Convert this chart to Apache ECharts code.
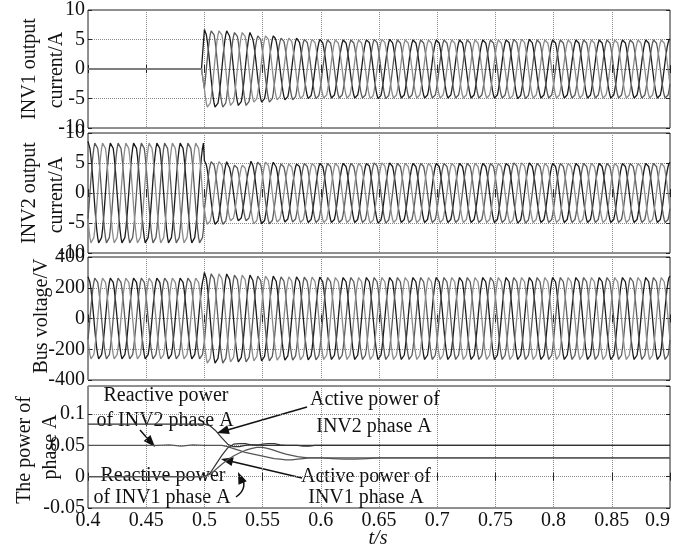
<!DOCTYPE html>
<html>
<head>
<meta charset="utf-8">
<script src="https://cdn.jsdelivr.net/npm/echarts/dist/echarts.min.js"></script>
<style>
  html, body { margin: 0; padding: 0; background: #fff; }
  #chart { width: 684px; height: 548px; }
</style>
</head>
<body>
<div id="chart"></div>
<script>
// time axis
const tStart = 0.4;
const samplesPerCycle = 24;
const cycleTime = 0.02; // 50 Hz
const totalSamples = 600;
const xTicks = [0.4, 0.45, 0.5, 0.55, 0.6, 0.65, 0.7, 0.75, 0.8, 0.85, 0.9];

// one normalised cycle (24 samples)
const cycleShape = [0, 0.259, 0.5, 0.707, 0.866, 0.966, 1, 0.966, 0.866, 0.707, 0.5, 0.259,
  0, -0.259, -0.5, -0.707, -0.866, -0.966, -1, -0.966, -0.866, -0.707, -0.5, -0.259];
// sample offset of phase A, B, C at t = 0.4
const phaseShift = [6, 22, 14];

// peak value of each 20 ms cycle
const inv1Amp = [0, 0, 0, 0, 0, 6.7, 6.4, 5.8, 5.4, 5.2, 5.1, 5.1, 5.2, 5.1, 5.1, 5.1, 5.1, 5.1, 5.2, 5.1, 5.1, 5.1, 5.1, 5.1, 5.1, 5.1];
const inv2Amp = [8.6, 8.6, 8.6, 8.6, 8.6, 5.4, 4.8, 5.3, 5.0, 5.1, 5.1, 5.1, 5.2, 5.1, 5.1, 5.1, 5.1, 5.1, 5.2, 5.1, 5.1, 5.1, 5.1, 5.1, 5.1, 5.1];
const busAmp = [272, 272, 272, 272, 272, 300, 292, 285, 280, 278, 276, 276, 276, 276, 276, 276, 276, 276, 276, 276, 276, 276, 276, 276, 276, 276];

// phase A power
const powerTime = [0.4, 0.45, 0.46, 0.47, 0.48, 0.49, 0.5, 0.505, 0.51, 0.515, 0.52, 0.525, 0.53, 0.535, 0.54, 0.545, 0.55, 0.555, 0.56, 0.565, 0.57, 0.575, 0.58, 0.585, 0.59, 0.595, 0.6, 0.61, 0.62, 0.63, 0.64, 0.65, 0.7, 0.9];
const inv2Active = [0.084, 0.084, 0.084, 0.084, 0.084, 0.084, 0.084, 0.081, 0.073, 0.062, 0.052, 0.048, 0.048, 0.05, 0.051, 0.051, 0.05, 0.05, 0.05, 0.05, 0.05, 0.05, 0.05, 0.05, 0.05, 0.05, 0.05, 0.05, 0.05, 0.05, 0.05, 0.05, 0.05, 0.05];
const inv1Active = [0, 0, 0, 0, 0, 0, 0, 0.006, 0.02, 0.034, 0.046, 0.052, 0.053, 0.053, 0.051, 0.05, 0.052, 0.053, 0.053, 0.051, 0.05, 0.05, 0.05, 0.049, 0.049, 0.05, 0.05, 0.05, 0.05, 0.05, 0.05, 0.05, 0.05, 0.05];
const inv2Reactive = [0.05, 0.05, 0.05, 0.051, 0.049, 0.051, 0.05, 0.05, 0.05, 0.05, 0.048, 0.045, 0.042, 0.039, 0.037, 0.035, 0.033, 0.031, 0.029, 0.028, 0.027, 0.027, 0.028, 0.029, 0.03, 0.03, 0.03, 0.03, 0.03, 0.03, 0.03, 0.03, 0.03, 0.03];
const inv1Reactive = [0, 0, 0, 0, 0, 0, 0, 0.004, 0.012, 0.02, 0.027, 0.033, 0.038, 0.042, 0.045, 0.047, 0.047, 0.045, 0.042, 0.039, 0.036, 0.034, 0.032, 0.031, 0.03, 0.03, 0.03, 0.029, 0.028, 0.028, 0.029, 0.03, 0.03, 0.03];

const phaseColors = ["#1a1a1a", "#5a5a5a", "#8c8c8c"];
const font = "'Liberation Serif', 'Times New Roman', serif";

function phaseData(amp, shift) {
  const out = [];
  for (let k = 0; k <= totalSamples; k++) {
    const c = Math.min(Math.floor(k / samplesPerCycle), amp.length - 1);
    out.push([tStart + (k * cycleTime) / samplesPerCycle, amp[c] * cycleShape[(k + shift) % samplesPerCycle]]);
  }
  return out;
}

function pairs(ts, vs) {
  return ts.map((t, i) => [t, vs[i]]);
}

const grids = [
  { left: 88, right: 14, top: 6, height: 122 },
  { left: 88, right: 14, top: 133, height: 120 },
  { left: 88, right: 14, top: 257, height: 123 },
  { left: 88, right: 14, top: 386, height: 122 },
].map((g) => ({ ...g, show: true, borderColor: "#222", borderWidth: 1 }));

const yRanges = [
  { min: -10, max: 10, interval: 5 },
  { min: -10, max: 10, interval: 5 },
  { min: -400, max: 400, interval: 200 },
  { min: -0.05, max: 0.145, interval: 0.05 },
];

const dotted = { show: true, lineStyle: { type: "dotted", color: "#8a8a8a", width: 1 } };
const tick = { show: true, inside: true, length: 4, lineStyle: { color: "#222" } };

const xAxis = [];
const yAxis = [];
grids.forEach((g, i) => {
  xAxis.push({
    type: "value", gridIndex: i, min: 0.4, max: 0.9, interval: 0.05,
    axisLine: { show: false }, axisTick: tick, splitLine: dotted,
    axisLabel: i === 3
      ? { show: true, color: "#111", fontFamily: font, fontSize: 20, margin: 3, alignMaxLabel: "right" }
      : { show: false },
  });
  xAxis.push({
    type: "value", gridIndex: i, position: "top", min: 0.4, max: 0.9, interval: 0.05,
    axisLine: { show: false }, axisTick: tick, splitLine: { show: false }, axisLabel: { show: false },
  });
  yAxis.push({
    type: "value", gridIndex: i, ...yRanges[i],
    axisLine: { show: false }, axisTick: tick, splitLine: dotted,
    axisLabel: { color: "#111", fontFamily: font, fontSize: 20, margin: 3, showMaxLabel: i === 3 ? false : null },
  });
  yAxis.push({
    type: "value", gridIndex: i, position: "right", ...yRanges[i],
    axisLine: { show: false }, axisTick: tick, splitLine: { show: false }, axisLabel: { show: false },
  });
});

const series = [];
[inv1Amp, inv2Amp, busAmp].forEach((amp, p) => {
  phaseShift.forEach((s, ph) => {
    series.push({
      type: "line", xAxisIndex: p * 2, yAxisIndex: p * 2, data: phaseData(amp, s),
      showSymbol: false, lineStyle: { width: 1.3, color: phaseColors[ph] },
    });
  });
});
[
  [inv2Active, "#333"],
  [inv1Active, "#333"],
  [inv2Reactive, "#555"],
  [inv1Reactive, "#555"],
].forEach(([vals, col]) => {
  series.push({
    type: "line", xAxisIndex: 6, yAxisIndex: 6, data: pairs(powerTime, vals),
    showSymbol: false, lineStyle: { width: 1.2, color: col },
  });
});

function label(text, x, y, rot, italic) {
  return {
    type: "text", x, y, rotation: rot || 0,
    style: {
      text, x: 0, y: 0, fill: "#111", fontFamily: font, fontSize: 20,
      fontStyle: italic ? "italic" : "normal", align: "center", verticalAlign: "middle",
    },
  };
}

function head(x1, y1, x2, y2) {
  const len = Math.hypot(x2 - x1, y2 - y1);
  const ux = (x2 - x1) / len, uy = (y2 - y1) / len;
  const bx = x2 - ux * 12, by = y2 - uy * 12;
  return {
    type: "polygon",
    shape: { points: [[x2, y2], [bx - uy * 4.5, by + ux * 4.5], [bx + uy * 4.5, by - ux * 4.5]] },
    style: { fill: "#111" },
  };
}

function arrow(x1, y1, x2, y2) {
  const len = Math.hypot(x2 - x1, y2 - y1);
  const ux = (x2 - x1) / len, uy = (y2 - y1) / len;
  return [
    { type: "line", shape: { x1, y1, x2: x2 - ux * 10, y2: y2 - uy * 10 }, style: { stroke: "#111", lineWidth: 1.5 } },
    head(x1, y1, x2, y2),
  ];
}

const R = Math.PI / 2;
const graphic = [
  label("INV1 output", 30, 69, R),
  label("current/A", 57, 70, R),
  label("INV2 output", 30, 193, R),
  label("current/A", 57, 195, R),
  label("Bus voltage/V", 42, 316, R),
  label("The power of", 25, 450, R),
  label("phase A", 51, 447, R),
  label("t/s", 378, 539, 0, true),
  label("Reactive power", 166, 396),
  label("of INV2 phase A", 165, 421),
  label("Active power of", 375, 400),
  label("INV2 phase A", 374, 427),
  label("Reactive power", 163, 476),
  label("of INV1 phase A", 162, 498),
  label("Active power of", 366, 477),
  label("INV1 phase A", 366, 498),
  ...arrow(140, 430, 155, 447),
  ...arrow(307, 407, 217, 433),
  ...arrow(302, 478, 221, 459),
  {
    type: "bezierCurve",
    shape: { x1: 236, y1: 497, cpx1: 246, cpy1: 490, cpx2: 245, cpy2: 482, x2: 241, y2: 478 },
    style: { stroke: "#111", lineWidth: 1.5, fill: null },
  },
  head(243, 484, 238, 472),
];

const chart = echarts.init(document.getElementById("chart"), null, { renderer: "canvas" });
chart.setOption({
  animation: false,
  backgroundColor: "#fff",
  grid: grids,
  xAxis,
  yAxis,
  series,
  graphic,
});
</script>
</body>
</html>
